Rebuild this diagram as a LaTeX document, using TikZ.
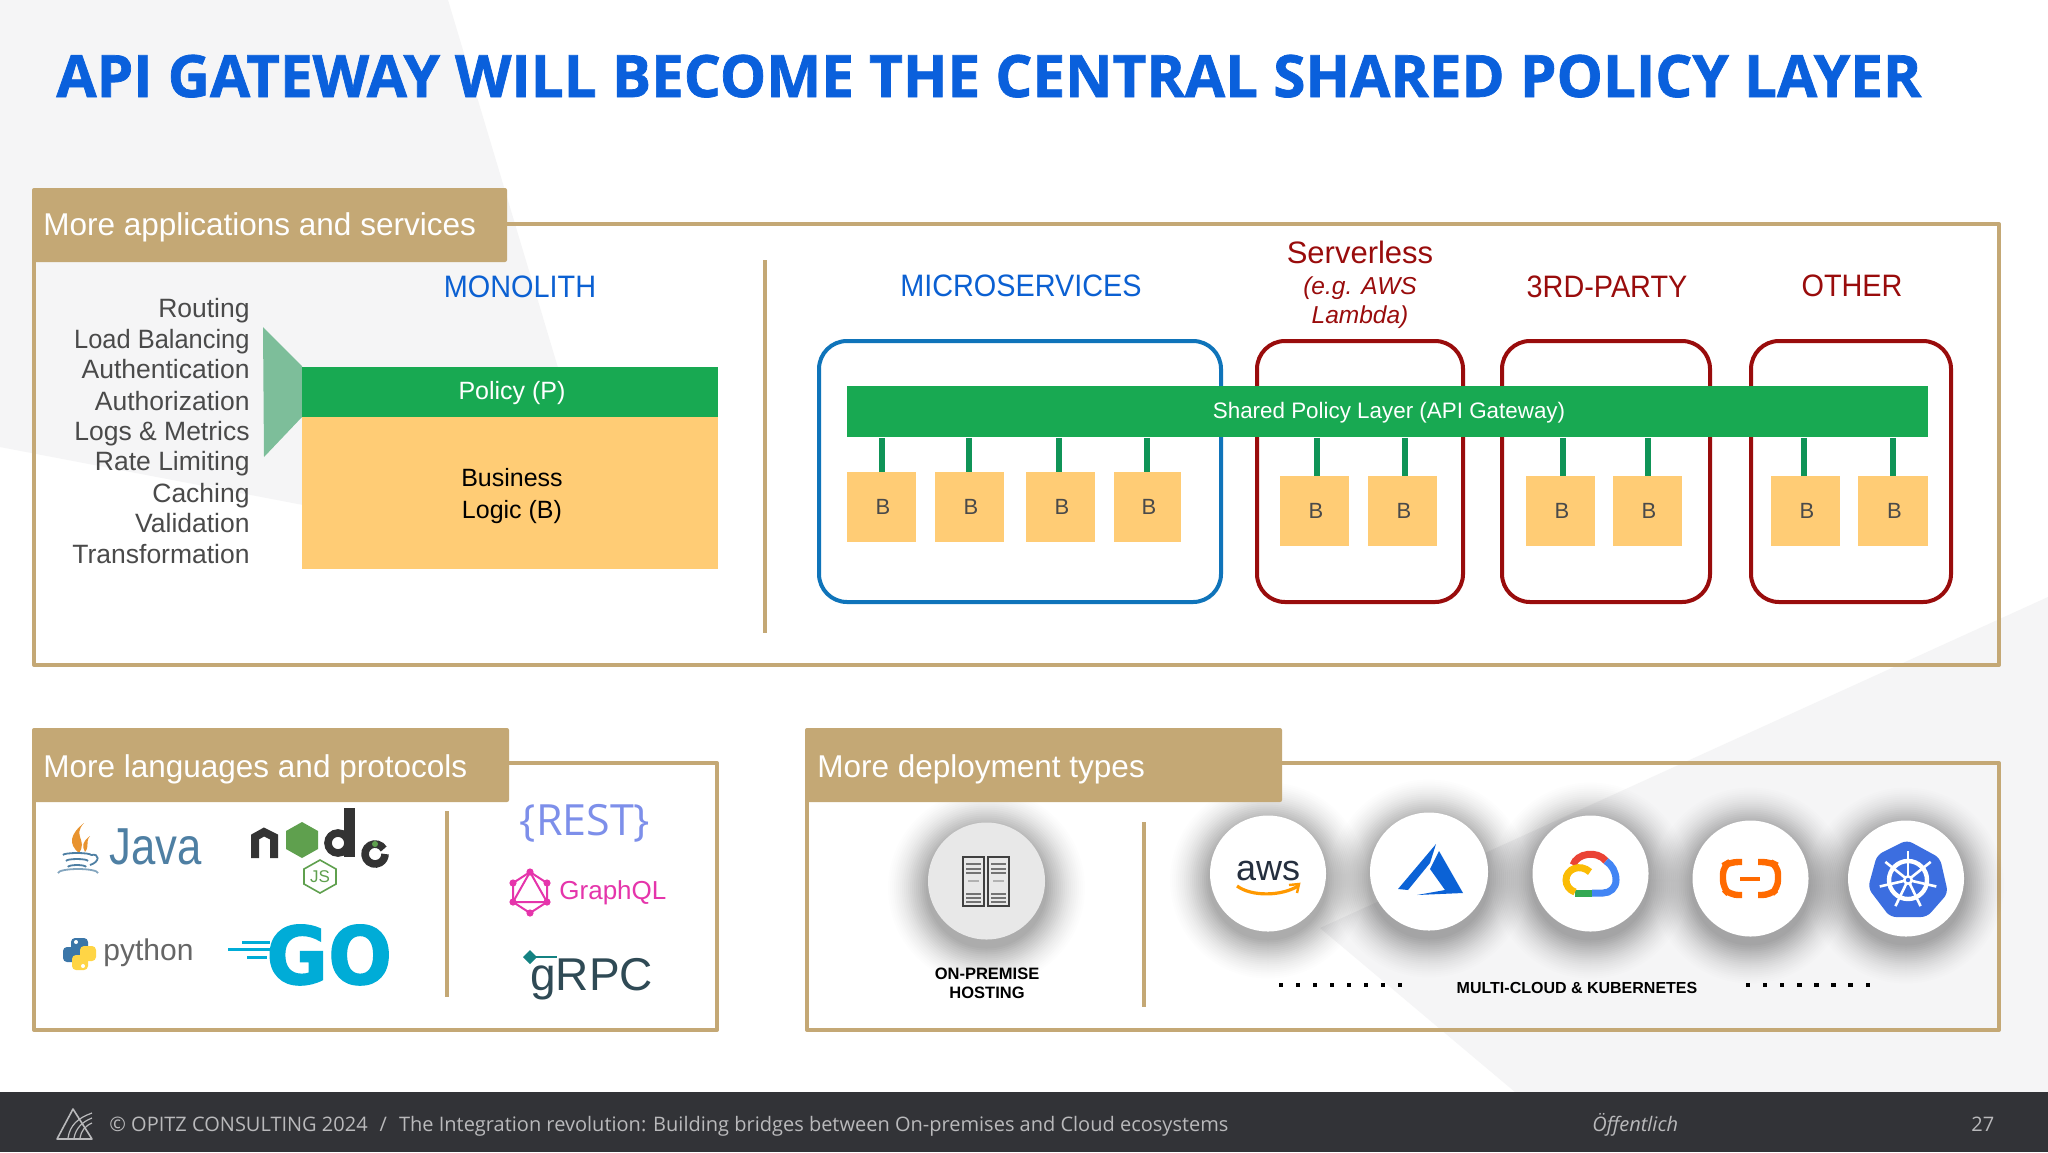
\documentclass[tikz,border=0pt]{standalone}
\usepackage{fontspec}
\setmainfont{Liberation Sans}
\newfontfamily\titlefont[BoldFeatures={FakeBold=1.2}]{Open Sans}
\newfontfamily\footfont{Open Sans}
\newfontfamily\gofont[BoldFeatures={FakeBold=1.6}]{DejaVu Sans}
\definecolor{gold}{HTML}{C4A875}
\definecolor{bggray}{HTML}{F5F5F6}
\definecolor{titleblue}{HTML}{0A60DC}
\definecolor{headblue}{HTML}{0B60D2}
\definecolor{boxblue}{HTML}{0F74BA}
\definecolor{boxred}{HTML}{990C0C}
\definecolor{pgreen}{HTML}{18A952}
\definecolor{lgreen}{HTML}{0F9457}
\definecolor{trapgreen}{HTML}{7DBE9A}
\definecolor{borange}{HTML}{FFCC75}
\definecolor{listgray}{HTML}{4A4A4A}
\definecolor{footbg}{HTML}{323337}
\definecolor{foottext}{HTML}{B9B9BB}
\definecolor{javablue}{HTML}{4E7FA3}
\definecolor{javaorange}{HTML}{E8932F}
\definecolor{nodeblack}{HTML}{333333}
\definecolor{nodegreen}{HTML}{5FA04E}
\definecolor{pyblue}{HTML}{3B76A8}
\definecolor{pyyellow}{HTML}{FFD545}
\definecolor{gocyan}{HTML}{00ACD7}
\definecolor{restblue}{HTML}{7D8FEA}
\definecolor{gqlpink}{HTML}{E535AB}
\definecolor{grpcdark}{HTML}{2F4A55}
\definecolor{grpcteal}{HTML}{148282}
\definecolor{awsdark}{HTML}{252F3E}
\definecolor{awsorange}{HTML}{FF9900}
\definecolor{azureblue}{HTML}{0B62D6}
\definecolor{gred}{HTML}{EA4335}
\definecolor{gblue}{HTML}{4285F4}
\definecolor{ggreen}{HTML}{34A853}
\definecolor{gyellow}{HTML}{FBBC05}
\definecolor{aliorange}{HTML}{FF6A00}
\definecolor{k8sblue}{HTML}{3C6EE0}
\newcommand{\fpx}[1]{\fontsize{\dimexpr #1pt/2\relax}{\dimexpr #1pt*6/10\relax}\selectfont}
\newcommand{\narrowcaps}[1]{\scalebox{.93}[1]{#1}}
\tikzset{
  frame/.style={draw=gold,line width=2pt,line join=round},
  headbox/.style={fill=gold,rounded corners=1pt},
  headtext/.style={anchor=base west,text=white,inner sep=0pt,font=\fpx{31.5}},
  sep/.style={draw=gold,line width=1.8pt},
  coltitle/.style={inner sep=0pt,font=\fpx{31}},
  svcbox/.style={line width=2pt,rounded corners=14pt},
  bbox/.style={fill=borange,inner sep=0pt,text=listgray,font=\fpx{22}},
  conn/.style={draw=lgreen,line width=2.6pt},
  listitem/.style={anchor=base east,inner sep=0pt,text=listgray,font=\fpx{26.5}},
  smalllabel/.style={inner sep=0pt,font=\bfseries\fpx{16.5},text=black,align=center},
  footlabel/.style={anchor=base west,inner sep=0pt,text=foottext,font=\footfont\fpx{20}},
  dotm/.style={fill=black,minimum size=2.2pt,inner sep=0pt},
}
% soft shadow only; the discs are drawn after all shadows
\newcommand{\softshadow}[3]{% x y r
  \foreach \i in {1,...,20}{
    \pgfmathsetmacro{\sr}{(#3+42-2*\i)*0.5}
    \pgfmathsetmacro{\so}{0.005+0.0012*\i}
    \fill[black,opacity=\so] (#1,#2+7) circle (\sr pt);
  }
}
\begin{document}
\begin{tikzpicture}[x=0.5pt,y=-0.5pt]
\useasboundingbox (0,0) rectangle (2048,1152);
\fill[white] (0,0) rectangle (2048,1152);
% background shapes
\fill[bggray] (0,0) -- (448,0) -- (617,565) -- (0,447) -- cycle;
\fill[bggray] (2048,597) -- (1320,928) -- (1515,1092) -- (2048,1092) -- cycle;
% title
\node[anchor=base west,inner sep=0pt,text=titleblue] (title) at (56,97)
  {\titlefont\bfseries\resizebox{932.5pt}{!}{\fontsize{26pt}{30pt}\selectfont API GATEWAY WILL BECOME THE CENTRAL SHARED POLICY LAYER}};

% ---------- Panel 1
\draw[frame] (34,224) rectangle (1999,665);
\fill[headbox] (32,188) rectangle (507,262);
\node[headtext] (h1) at (43,235) {More applications and services};
\draw[sep] (765,260) -- (765,633);
\node[coltitle,text=headblue] (mono) at (520,287) {\narrowcaps{MONOLITH}};
\foreach \t/\y in {Routing/317,\scalebox{.96}[1]{Load Balancing}/348,Authentication/378,Authorization/410,Logs \& Metrics/440,Rate Limiting/470,Caching/502,Validation/532,Transformation/563}
  \node[listitem] at (250,\y) {\t};
\fill[trapgreen] (263,327) -- (302,366) -- (302,417) -- (264,457) -- cycle;
\node[fill=borange,minimum width=208pt,minimum height=76.5pt,inner sep=0pt,anchor=north west] (biz) at (302,416) {};
\node[fill=pgreen,minimum width=208pt,minimum height=25pt,inner sep=0pt,anchor=north west] (pol) at (302,367) {};
\node[inner sep=0pt,text=white,font=\fpx{25}] at (512,393.5) {Policy (P)};
\node[inner sep=0pt,anchor=base,font=\fpx{25}] at (512,486) {Business};
\node[inner sep=0pt,anchor=base,font=\fpx{25}] at (512,518) {Logic (B)};

% service boxes
\draw[svcbox,draw=boxblue] (819,341) rectangle (1221,602);
\draw[svcbox,draw=boxred] (1257,341) rectangle (1463,602);
\draw[svcbox,draw=boxred] (1502,341) rectangle (1710,602);
\draw[svcbox,draw=boxred] (1751,341) rectangle (1951,602);
\node[coltitle,text=headblue] (ms) at (1021,286) {\narrowcaps{MICROSERVICES}};
\node[coltitle,text=boxred] (sl) at (1360,252) {Serverless};
\node[inner sep=0pt,text=boxred,font=\itshape\fpx{24.5}] (sl2) at (1360,288) {(e.g. AWS};
\node[inner sep=0pt,text=boxred,font=\itshape\fpx{24.5}] (sl3) at (1360,317) {Lambda)};
\node[coltitle,text=boxred] (tp) at (1607,287) {\narrowcaps{3RD-PARTY}};
\node[coltitle,text=boxred] (ot) at (1852,286) {\narrowcaps{OTHER}};
% shared bar
\node[fill=pgreen,minimum width=540.5pt,minimum height=25.5pt,inner sep=0pt,anchor=north west] (bar) at (847,386) {};
\node[inner sep=0pt,text=white,font=\fpx{22.4}] at (1389,413) {Shared Policy Layer (API Gateway)};
% B boxes
\foreach \nm/\xa/\xb/\ya in {a/847/916/472,b/935/1004/472,c/1026/1095/472,d/1114/1181/472,e/1280/1349/476,f/1368/1437/476,g/1526/1595/476,h/1613/1682/476,i/1771/1840/476,j/1858/1928/476}{
  \pgfmathsetmacro{\bw}{(\xb-\xa)*0.5}
  \node[bbox,anchor=north west,minimum width=\bw pt,minimum height=35pt] (b\nm) at (\xa,\ya) {\kern1pt B};
  \coordinate (btop\nm) at (\xa,\ya);
}
\foreach \nm/\x in {a/882,b/969,c/1059,d/1147,e/1317,f/1405,g/1563,h/1648,i/1804,j/1893}
  \draw[conn] (\x,0 |- bar.south) -- (\x,0 |- btop\nm);

% ---------- Panel 2
\draw[frame] (34,763) rectangle (717,1030);
\fill[headbox] (32,728) rectangle (509,802);
\node[headtext] (h2) at (43,777) {More languages and protocols};
\draw[sep] (447,811) -- (447,997);
% Java
\fill[javaorange] (84,823) .. controls (72,836) and (88,840) .. (79,853) .. controls (68,844) and (70,834) .. (84,823) -- cycle;
\fill[javaorange] (90,836) .. controls (85,842) and (90,846) .. (85,852) .. controls (82,846) and (82,842) .. (90,836) -- cycle;
\draw[javablue,line width=0.9pt] (63,855) arc[start angle=180,end angle=360,x radius=14,y radius=2];
\draw[javablue,line width=0.9pt] (66,861) arc[start angle=180,end angle=360,x radius=11,y radius=2];
\draw[javablue,line width=0.9pt] (68,867) arc[start angle=180,end angle=360,x radius=9,y radius=2];
\draw[javablue,line width=0.9pt] (91,855) .. controls (100,853) and (100,862) .. (90,865);
\draw[javablue!70,line width=0.9pt] (58,873) arc[start angle=180,end angle=360,x radius=20,y radius=4];
\node[inner sep=0pt,anchor=base west,text=javablue,font=\fpx{52}] (java) at (109,864) {\scalebox{.84}[1]{Java}};
% node
\draw[nodeblack,line width=4pt] (255,858) -- (255,837) -- (264,832) -- (274,837) -- (274,858);
\fill[nodegreen] (302,822) -- (318,831) -- (318,849) -- (302,858) -- (286,849) -- (286,831) -- cycle;
\fill[nodeblack] (344,808) -- (355,808) -- (355,857) -- (344,857) -- cycle;
\draw[nodeblack,line width=3.8pt] (338,843) circle (5pt);
\draw[nodeblack,line width=3.8pt] (383.7,849) arc[start angle=30,end angle=360,radius=5pt];
\fill[nodegreen] (375,844) circle (1.5pt);
\draw[nodegreen,line width=.8pt] (320,860) -- (336,869) -- (336,884) -- (320,893) -- (304,884) -- (304,869) -- cycle;
\node[inner sep=0pt,text=nodegreen,font=\fpx{17}] (js) at (320,877) {JS};
% python
\fill[pyblue,rounded corners=2pt] (71,938) rectangle (88,953);
\fill[pyblue,rounded corners=2pt] (63,947) rectangle (80,962);
\fill[pyyellow,rounded corners=2pt] (80,946) rectangle (96,961);
\fill[pyyellow,rounded corners=2pt] (72,955) rectangle (88,970);
\fill[white] (76,942) circle (1pt);
\fill[white] (83,966) circle (1pt);
\node[inner sep=0pt,anchor=base west,text=black!60,font=\fpx{30}] (py) at (103,960) {python};
% GO
\draw[gocyan,line width=1.5pt] (242,942) -- (270,942);
\draw[gocyan,line width=1.5pt] (228,949) -- (270,949);
\draw[gocyan,line width=1.5pt] (247,957) -- (267,957);
\node[inner sep=0pt,anchor=base west,text=gocyan,font=\gofont\bfseries\fpx{80}] (go) at (266,984) {\scalebox{.94}[1]{GO}};
% REST
\node[inner sep=0pt,text=restblue,font=\footfont\fpx{43}] (rest) at (585,823) {\{REST\}};
% GraphQL
\draw[gqlpink,line width=1pt] (530,872) -- (547,883) -- (547,902) -- (530,913) -- (513,902) -- (513,883) -- cycle;
\draw[gqlpink,line width=1pt] (530,872) -- (547,902) -- (513,902) -- cycle;
\foreach \x/\y in {530/872,547/883,547/902,530/913,513/902,513/883} \fill[gqlpink] (\x,\y) circle (1.8pt);
\node[inner sep=0pt,anchor=base west,text=gqlpink,font=\fpx{26}] (gq) at (559,899) {GraphQL};
% gRPC
\node[inner sep=0pt,anchor=base west,text=grpcdark,font=\fpx{46}] (grpc) at (530,990) {gRPC};
\draw[grpcteal,line width=1pt] (527,957) -- (557,957);
\fill[grpcteal] (523,957) -- (530,950) -- (537,957) -- (530,964) -- cycle;

% ---------- Panel 3
\draw[frame] (807,763) rectangle (1999,1030);
\softshadow{986.5}{881}{58.5}
\softshadow{1268}{873.5}{58}
\softshadow{1429}{871.5}{59}
\softshadow{1590.5}{873.5}{58}
\softshadow{1750.5}{878.5}{58}
\softshadow{1906}{878.5}{58}
\fill[headbox] (805,728) rectangle (1282,802);
\node[headtext] (h3) at (817,777) {More deployment types};
\draw[sep] (1144,822) -- (1144,1007);
\fill[black!9] (986.5,881) circle (29.25pt);
\foreach \x in {963,988}{
  \draw[black!75,line width=.8pt] (\x,857) rectangle (\x+21,906);
  \foreach \y in {864,869,873,894,898,902} \draw[black!55,line width=.9pt] (\x+3,\y) -- (\x+18,\y);
  \draw[black!30,line width=.8pt] (\x+5,881) -- (\x+16,881);
}
\node[smalllabel] (op1) at (987,974) {ON-PREMISE};
\node[smalllabel] (op2) at (987,993) {HOSTING};
% clouds
\fill[white] (1268,873.5) circle (29pt);
\fill[white] (1429,871.5) circle (29.5pt);
\fill[white] (1590.5,873.5) circle (29pt);
\fill[white] (1750.5,878.5) circle (29pt);
\fill[white] (1906,878.5) circle (29pt);
% aws
\node[inner sep=0pt,anchor=base,text=awsdark,font=\fpx{36}] (aws) at (1268,880) {aws};
\draw[awsorange,line width=1.6pt] (1237,886) .. controls (1252,897) and (1282,896) .. (1298,886);
\draw[awsorange,line width=1.2pt] (1289,885) -- (1299,884) -- (1297,893);
% azure
\fill[azureblue] (1436,844) -- (1398,889) -- (1408,890) -- (1430,863) -- cycle;
\fill[azureblue] (1439,851) -- (1463,893) -- (1417,895) -- (1445,890) -- (1430,869) -- cycle;
% gcp cloud
\draw[gred,line width=3.5pt] (1573,865) .. controls (1577,853) and (1597,850) .. (1606,861);
\draw[gblue,line width=3.5pt] (1606,861) .. controls (1612,865) and (1616,872) .. (1616,880) .. controls (1616,888) and (1610,893) .. (1603,893) -- (1592,893);
\draw[ggreen,line width=3.5pt] (1592,893) -- (1575,893);
\draw[gyellow,line width=3.5pt] (1575,892) .. controls (1569,890) and (1566,885) .. (1566,880) .. controls (1566,869) and (1580,863) .. (1590,872);
% alibaba
\draw[aliorange,line width=3.2pt,rounded corners=4pt] (1742,862) -- (1730,862) -- (1723,866) -- (1723,888) -- (1730,895) -- (1742,895);
\draw[aliorange,line width=3.2pt,rounded corners=4pt] (1758,862) -- (1770,862) -- (1778,866) -- (1778,888) -- (1770,895) -- (1758,895);
\draw[aliorange,line width=2pt] (1740,879) -- (1760,879);
% kubernetes
\fill[k8sblue,rounded corners=3pt] (1907,840) -- (1940,858) -- (1948,893) -- (1927,917) -- (1890,917) -- (1868,888) -- (1877,855) -- cycle;
\draw[white,line width=2.2pt] (1908,880) circle (9.5pt);
\foreach \a in {90,141.4,192.9,244.3,295.7,347.1,38.6}{
  \draw[white,line width=1.3pt] (1908,880) -- ++(\a:-29);
}
\fill[white] (1908,880) circle (2.5pt);
\fill[k8sblue] (1908,880) circle (1.1pt);
% dots
\foreach \i in {0,...,7}{
  \node[dotm] (dl\i) at ({1281+17*\i},985) {};
  \node[dotm] (dr\i) at ({1748+17.1*\i},985) {};
}
\node[smalllabel,font=\bfseries\fpx{16}] (mc) at (1577,988) {MULTI-CLOUD \& KUBERNETES};

% ---------- Footer
\fill[footbg] (0,1092) rectangle (2048,1152);
\draw[foottext,line width=.8pt,line join=round] (73,1109) -- (57,1139) -- (92,1139) -- cycle;
\draw[foottext,line width=.6pt] (68,1138) .. controls (70,1125) and (78,1118) .. (92,1113);
\draw[foottext,line width=.6pt] (74,1138) .. controls (76,1128) and (82,1122) .. (92,1118);
\draw[foottext,line width=.6pt] (80,1138) .. controls (81,1131) and (85,1126) .. (92,1123);
\node[footlabel] (f1) at (109,1131) {© OPITZ CONSULTING 2024\hspace{6pt}/\hspace{6pt}The Integration revolution: Building bridges between On-premises and Cloud ecosystems};
\node[footlabel,font=\footfont\itshape\fpx{20}] (f2) at (1592,1131) {Öffentlich};
\node[footlabel] (f3) at (1971,1131) {27};
\end{tikzpicture}
\end{document}
